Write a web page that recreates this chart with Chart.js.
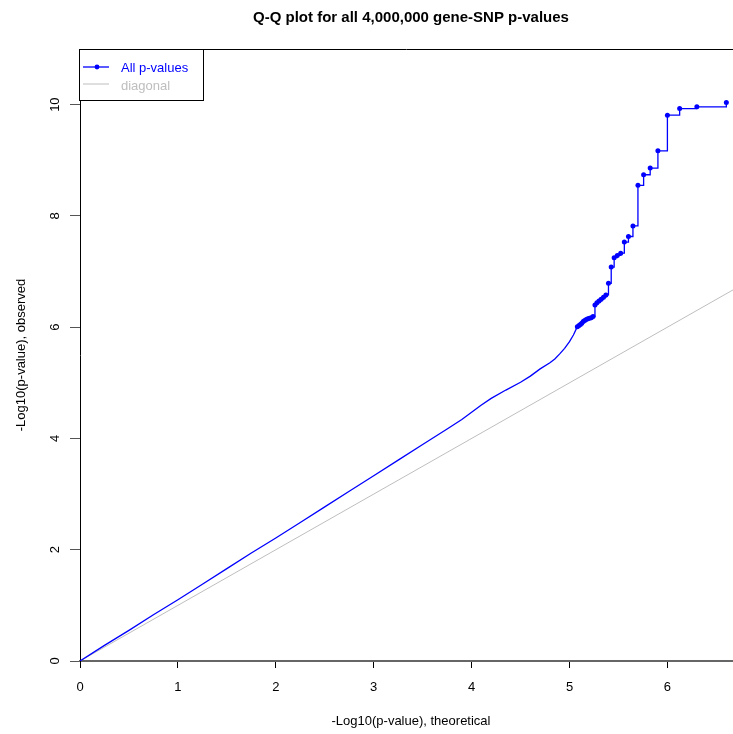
<!DOCTYPE html>
<html>
<head>
<meta charset="utf-8">
<script src="https://cdn.jsdelivr.net/npm/chart.js@4.4.0/dist/chart.umd.min.js"></script>
<style>
  html, body { margin: 0; padding: 0; background: #fff; }
  #wrap { width: 733px; height: 734px; }
</style>
</head>
<body>
<div id="wrap"><canvas id="qqChart" width="733" height="734"></canvas></div>
<script>
// values
const bodyX = [0, 0.25, 0.5, 0.75, 1, 1.25, 1.5, 1.75, 2, 2.25, 2.5, 2.75, 3, 3.25, 3.5, 3.75,
               3.9, 4.0, 4.1, 4.2, 4.35, 4.5, 4.6, 4.7, 4.8, 4.85, 4.9, 4.95, 5.0, 5.04, 5.08];
const bodyY = [0, 0.28, 0.55, 0.83, 1.10, 1.38, 1.66, 1.94, 2.21, 2.49, 2.77, 3.05, 3.33, 3.61, 3.89, 4.17,
               4.34, 4.47, 4.60, 4.72, 4.87, 5.01, 5.12, 5.25, 5.36, 5.43, 5.52, 5.62, 5.74, 5.86, 6.01];

// top-ranked p-values (drawn with markers)
const tailX = [5.08, 5.097, 5.111, 5.125, 5.14, 5.155, 5.171, 5.187, 5.204, 5.222, 5.24,
               5.26, 5.28, 5.301, 5.323, 5.347, 5.372, 5.398, 5.426, 5.456, 5.488, 5.523,
               5.56, 5.602, 5.648, 5.699, 5.757, 5.824, 5.903, 6.0, 6.125, 6.301, 6.602];
const tailY = [6.01, 6.03, 6.05, 6.07, 6.10, 6.12, 6.14, 6.15, 6.16, 6.17, 6.19,
               6.40, 6.44, 6.47, 6.50, 6.54, 6.58, 6.79, 7.08, 7.25, 7.29, 7.33,
               7.53, 7.63, 7.82, 8.55, 8.74, 8.86, 9.17, 9.81, 9.93, 9.96, 10.04];

const diagX = [0, 7];
const diagY = [0, 7];

const yTicks = [0, 2, 4, 6, 8, 10];

const BLUE = '#0000ff';
const GREY = '#bebebe';
const FONT = '"Liberation Sans", Arial, sans-serif';

Chart.defaults.font.family = FONT;

function pts(xs, ys) {
    return xs.map((x, i) => ({ x: x, y: ys[i] }));
}

// R-style decorations: title, axis titles, rotated y labels, top border, legend
const rDecor = {
    id: 'rDecor',
    afterDraw(chart) {
        const ctx = chart.ctx;
        const area = chart.chartArea;
        const y = chart.scales.y;
        ctx.save();

        // top border of the plot box
        ctx.strokeStyle = '#000';
        ctx.lineWidth = 1;
        ctx.beginPath();
        ctx.moveTo(area.left, 49.5);
        ctx.lineTo(area.right, 49.5);
        ctx.stroke();

        ctx.fillStyle = '#000';
        ctx.textAlign = 'center';
        ctx.textBaseline = 'middle';

        ctx.font = 'bold 15px ' + FONT;
        ctx.fillText('Q-Q plot for all 4,000,000 gene-SNP p-values', 411, 18);

        ctx.font = '13px ' + FONT;
        ctx.fillText('-Log10(p-value), theoretical', 411, 721);

        // rotated y tick labels
        yTicks.forEach(v => {
            ctx.save();
            ctx.translate(55, y.getPixelForValue(v));
            ctx.rotate(-Math.PI / 2);
            ctx.fillText(String(v), 0, 0);
            ctx.restore();
        });

        ctx.save();
        ctx.translate(21, (area.top + area.bottom) / 2);
        ctx.rotate(-Math.PI / 2);
        ctx.fillText('-Log10(p-value), observed', 0, 0);
        ctx.restore();

        // legend box
        ctx.fillStyle = '#fff';
        ctx.fillRect(80, 50, 124, 51);
        ctx.strokeStyle = '#000';
        ctx.strokeRect(79.5, 49.5, 124, 51);

        ctx.strokeStyle = BLUE;
        ctx.lineWidth = 1.3;
        ctx.beginPath();
        ctx.moveTo(83, 67);
        ctx.lineTo(109, 67);
        ctx.stroke();
        ctx.fillStyle = BLUE;
        ctx.beginPath();
        ctx.arc(97, 67, 2.4, 0, Math.PI * 2);
        ctx.fill();

        ctx.strokeStyle = GREY;
        ctx.lineWidth = 1;
        ctx.beginPath();
        ctx.moveTo(83, 84);
        ctx.lineTo(109, 84);
        ctx.stroke();

        ctx.textAlign = 'left';
        ctx.font = '13px ' + FONT;
        ctx.fillStyle = BLUE;
        ctx.fillText('All p-values', 121, 68);
        ctx.fillStyle = GREY;
        ctx.fillText('diagonal', 121, 86);

        ctx.restore();
    }
};

const ctx = document.getElementById('qqChart').getContext('2d');
const qqChart = new Chart(ctx, {
    type: 'scatter',
    data: {
        datasets: [{
            label: 'All p-values',
            data: pts(tailX, tailY),
            showLine: true,
            stepped: 'before',
            borderColor: BLUE,
            backgroundColor: BLUE,
            borderWidth: 1.3,
            pointRadius: 2.5,
            pointBorderWidth: 0,
            order: 1
        }, {
            label: 'All p-values',
            data: pts(bodyX, bodyY),
            showLine: true,
            borderColor: BLUE,
            borderWidth: 1.3,
            pointRadius: 0,
            order: 2
        }, {
            label: 'diagonal',
            data: pts(diagX, diagY),
            showLine: true,
            borderColor: GREY,
            borderWidth: 1,
            pointRadius: 0,
            order: 3
        }]
    },
    plugins: [rDecor],
    options: {
        responsive: false,
        animation: false,
        layout: { autoPadding: false, padding: { top: 49, left: 0, right: 0, bottom: 0 } },
        plugins: {
            legend: { display: false },
            tooltip: { enabled: false }
        },
        scales: {
            x: {
                type: 'linear',
                min: 0,
                max: 6.67,
                afterFit: s => { s.height = 73; },
                ticks: {
                    stepSize: 1,
                    includeBounds: false,
                    autoSkip: false,
                    maxRotation: 0,
                    color: '#000',
                    padding: 12,
                    font: { size: 13 }
                },
                grid: {
                    drawOnChartArea: false,
                    tickLength: 7,
                    tickColor: '#000'
                },
                border: { color: '#666', width: 2 }
            },
            y: {
                min: 0,
                max: 11,
                afterFit: s => { s.width = 80; },
                ticks: {
                    stepSize: 2,
                    includeBounds: false,
                    display: false
                },
                grid: {
                    drawOnChartArea: false,
                    tickLength: 10,
                    tickColor: '#555'
                },
                border: { color: '#000', width: 1 }
            }
        }
    }
});
</script>
</body>
</html>
